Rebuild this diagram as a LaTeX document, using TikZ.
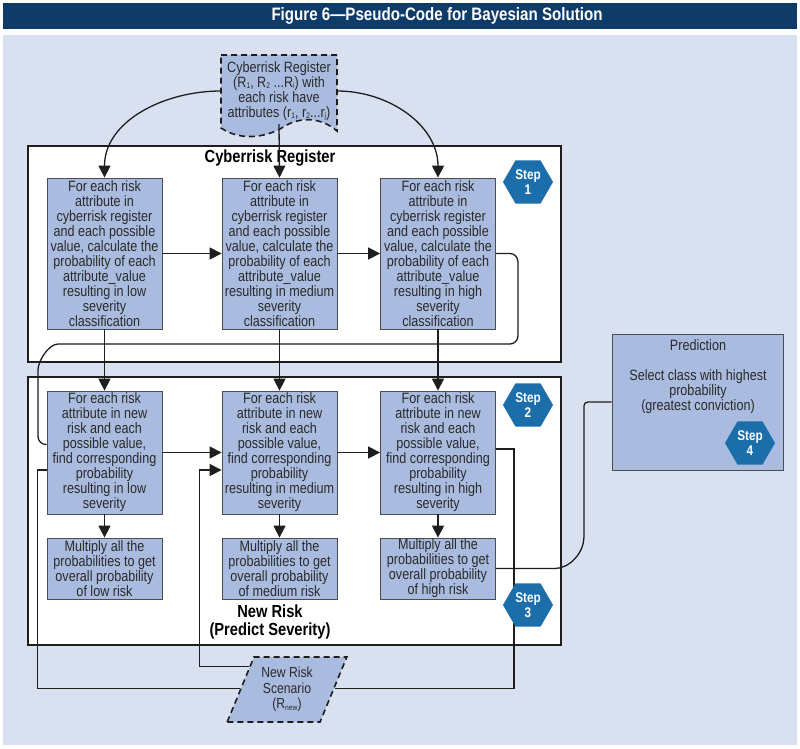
\documentclass[tikz,border=0pt]{standalone}
\usepackage{fontspec}
\setmainfont{Liberation Sans}[FakeStretch=0.84]
\newfontfamily\bannerfont{Liberation Sans}[FakeStretch=0.84]
\usetikzlibrary{shapes.geometric,arrows.meta,calc}

\definecolor{bgblue}{HTML}{D9E0EF}
\definecolor{navy}{HTML}{0E3B67}
\definecolor{boxblue}{HTML}{A9BCDF}
\definecolor{stepblue}{HTML}{1B6EAA}
\definecolor{inkgray}{HTML}{2A2A2A}
\definecolor{boxedge}{HTML}{4D4D4D}
\definecolor{linegray}{HTML}{1E1E1E}

\newcommand{\lowidx}[1]{\raisebox{-1.5pt}{\fontsize{8}{8}\selectfont #1}}

\begin{document}
\begin{tikzpicture}[x=1pt,y=-1pt,
    box/.style={draw=boxedge, line width=0.8pt, fill=boxblue, text=inkgray, align=center,
      minimum width=115pt, inner sep=1pt, font=\fontsize{15}{15}\selectfont},
    stepbox/.style={regular polygon, regular polygon sides=6, fill=stepblue, minimum size=50pt,
      inner sep=0pt, text=white, align=center, font=\bfseries\fontsize{14}{14.5}\selectfont},
    framebox/.style={draw=linegray, line width=1.5pt, fill=white},
    headline/.style={text=black, align=center, font=\bfseries\fontsize{17.5}{17.5}\selectfont},
    dashedge/.style={draw=linegray, line width=1.6pt, dash pattern=on 6pt off 4pt},
    scenario/.style={trapezium, trapezium left angle=65, trapezium right angle=115,
      trapezium stretches=true, minimum width=120pt, minimum height=65pt, dashedge,
      fill=boxblue, text=inkgray, align=center, inner sep=1pt, font=\fontsize{14.5}{15.5}\selectfont},
    link/.style={draw=linegray, line width=1.3pt},
    arr/.style={link, -{Triangle[length=12pt,width=12pt]}}]
\useasboundingbox (0,0) rectangle (800,748);

% background and banner
\fill[white] (0,0) rectangle (800,748);
\fill[navy] (3,3) rectangle (797,29);
\fill[bgblue] (3,35) rectangle (797,745);
\node[text=white, font=\bannerfont\bfseries\fontsize{18}{20}\selectfont] (title) at (437,16) {Figure 6—Pseudo-Code for Bayesian Solution};

% the two containers
\draw[framebox] (28,146) rectangle (561,362);
\draw[framebox] (28,377) rectangle (561,645);
\node[headline] (regtitle) at (270,158) {Cyberrisk Register};
\node[headline] (newtitle) at (270,622) {New Risk\\(Predict Severity)};

% register document with wavy bottom
\draw[dashedge, fill=boxblue] (221,55) -- (337,55) -- (337,131)
  .. controls (322,118) and (302,116) .. (285,126)
  .. controls (268,137) and (242,142) .. (221,128) -- cycle;
\node[text=inkgray, align=center, minimum width=116pt, minimum height=76pt, inner sep=0pt,
  font=\fontsize{15}{15}\selectfont] (doc) at (279,91)
  {Cyberrisk Register\\(R\lowidx{1}, R\lowidx{2} ...R\lowidx{i}) with\\each risk have\\attributes (r\lowidx{1}, r\lowidx{2}...r\lowidx{j})};

% one column per severity class
\foreach \n/\x/\lev in {A/104.5/low, B/279.5/medium, C/438/high} {
  \node[box, minimum height=151pt] (\n1) at (\x,253.5) {For each risk\\attribute in\\cyberrisk register\\and each possible\\value, calculate the\\probability of each\\attribute\_value\\resulting in \lev\\severity\\classification};
  \node[box, minimum height=123pt] (\n2) at (\x,452.5) {For each risk\\attribute in new\\risk and each\\possible value,\\find corresponding\\probability\\resulting in \lev\\severity};
  \node[box, minimum height=61pt] (\n3) at (\x,568.5) {Multiply all the\\probabilities to get\\overall probability\\of \lev{} risk};
}

% prediction
\node[box, minimum width=171pt, minimum height=136pt] (pred) at (697.5,402) {};
\node[text=inkgray, align=center, font=\fontsize{15}{15}\selectfont] (predtxt) at (698,377)
  {Prediction\\[15pt]Select class with highest\\probability\\(greatest conviction)};

% new risk scenario
\node[scenario] (scen) at (287,689.5) {New Risk\\Scenario\\(R\lowidx{new})};
\coordinate (scL1) at ($(scen.top left corner)!0.15!(scen.bottom left corner)$);
\coordinate (scL2) at ($(scen.top left corner)!0.49!(scen.bottom left corner)$);
\coordinate (scR) at ($(scen.top right corner)!0.49!(scen.bottom right corner)$);

% edges from the register
\draw[arr] (doc.west) to[out=180,in=90] (A1.north);
\draw[arr] (doc.east) to[out=0,in=90] (C1.north);
\draw[arr] ($(doc.south)+(0,-5)$) -- (B1.north);

% edges inside the columns
\foreach \n in {A,B,C} {
  \draw[arr] (\n1) -- (\n2);
  \draw[arr] (\n2) -- (\n3);
}
\draw[arr] (A1) -- (B1);
\draw[arr] (B1) -- (C1);
\draw[arr] (A2) -- (B2);
\draw[arr] (B2) -- (C2);

% feedback lines
\draw[link, rounded corners=8pt] (C1.east) -- ++(22,0) |- (66,344) to[out=180,in=90] (38,378) |- ($(A2.west)+(0,-8)$);
\draw[arr] (scL1) -| ($(B2.west)+(-22,17.5)$) -- ($(B2.west)+(0,17.5)$);
\draw[link] (scL2) -| ($(A2.west)+(-9,17.5)$) -- ($(A2.west)+(0,17.5)$);
\draw[link] (scR) -| ($(C2.east)+(18,-3.5)$) -- ($(C2.east)+(0,-3.5)$);
\draw[link, rounded corners=4pt] (C3.east) -- ++(55,0) to[out=0,in=-90] ++(33,-35) |- (pred.west);

% step markers on top
\foreach \s/\y in {1/182, 2/405, 3/605} {
  \node[stepbox] (step\s) at (528,\y) {Step\\\s};
}
\node[stepbox] (step4) at (750,443) {Step\\4};
\end{tikzpicture}
\end{document}
